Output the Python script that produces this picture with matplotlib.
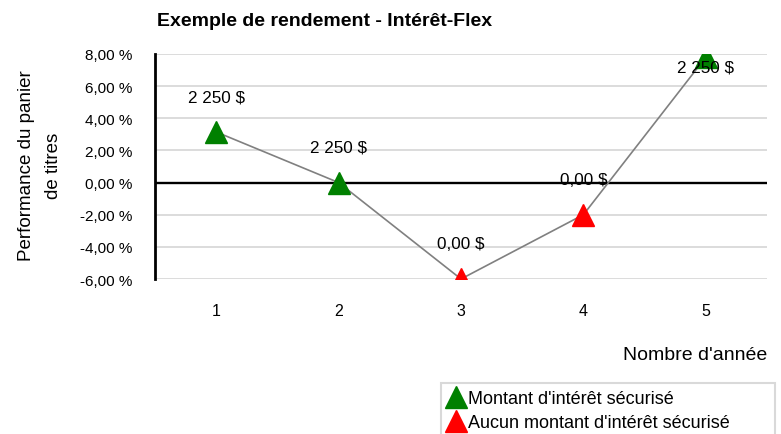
import matplotlib
matplotlib.use("Agg")
import matplotlib.pyplot as plt
from matplotlib.lines import Line2D
from matplotlib.patches import Rectangle
from matplotlib.ticker import FuncFormatter, MultipleLocator

plt.rcParams['font.family'] = ['Liberation Sans', 'DejaVu Sans']

# ---- data ----
years = [1, 2, 3, 4, 5]
performance = [3.15, 0.0, -6.0, -2.0, 7.8]          # %
secured = [True, True, False, False, True]
labels = ["2 250 $", "2 250 $", "0,00 $", "0,00 $", "2 250 $"]
title = "Exemple de rendement - Intérêt-Flex"
ylabel = "Performance du panier\nde titres"
xlabel = "Nombre d'année"
legend_labels = ["Montant d'intérêt sécurisé", "Aucun montant d'intérêt sécurisé"]

GREEN = "#008000"
RED = "#ff0000"

W, H = 781, 435
fig = plt.figure(figsize=(W / 100, H / 100), dpi=100)
ax = fig.add_axes([155 / W, 1 - 280 / H, (767 - 155) / W, (280 - 55) / H])

ymin, ymax = -6, 8
ax.set_xlim(0.5, 5.5)
ax.set_ylim(ymin, ymax)

# gridlines
ax.yaxis.set_major_locator(MultipleLocator(2))
ax.grid(axis='y', color='#d9d9d9', lw=1.3, zorder=0)
ax.set_axisbelow(True)
for s in ['top', 'right', 'bottom']:
    ax.spines[s].set_visible(False)
ax.spines['left'].set_linewidth(2.0)
ax.spines['left'].set_color('black')
ax.axhline(0, color='black', lw=1.7, zorder=2)

# line + markers
ax.plot(years, performance, color='#808080', lw=1.2, zorder=3)
for x, y, s in zip(years, performance, secured):
    ax.plot([x], [y], marker='^', ms=16.5, color=GREEN if s else RED,
            ls='', zorder=4)

# data labels
for x, y, lab in zip(years, performance, labels):
    off = -7 if y > ymax - 1 else 25.5
    ax.annotate(lab, (x, y), xytext=(0, off), textcoords='offset points',
                ha='center', va='center', fontsize=12.3, zorder=5,
                annotation_clip=False)

ax.set_xticks(years)
ax.set_xticklabels([str(v) for v in years])
ax.tick_params(axis='x', length=0, pad=17, labelsize=11.5)
ax.tick_params(axis='y', length=0, pad=16, labelsize=11)
ax.yaxis.set_major_formatter(FuncFormatter(lambda v, p: f"{v:.2f} %".replace('.', ',')))

fig.text(157 / W, 1 - 22 / H, title, ha='left', va='center',
         fontsize=14, fontweight='bold')
fig.text(40 / W, 1 - 166 / H, ylabel, ha='center', va='center',
         rotation=90, fontsize=13.5, multialignment='center', linespacing=1.75)
fig.text(767 / W, 1 - 356 / H, xlabel, ha='right', va='center', fontsize=14)

# legend
fig.patches.append(Rectangle((441 / W, 1 - 445 / H), (775 - 441) / W, (445 - 384) / H,
                             transform=fig.transFigure, facecolor='white',
                             edgecolor='#d9d9d9', lw=1.5))
handles = [Line2D([], [], marker='^', ls='', color=GREEN, ms=16.5),
           Line2D([], [], marker='^', ls='', color=RED, ms=16.5)]
fig.legend(handles, legend_labels, loc='upper left',
           bbox_to_anchor=(446 / W, 1 - 391 / H), frameon=False,
           fontsize=13, handlelength=1.1, handletextpad=0.1,
           borderpad=0, borderaxespad=0, labelspacing=0.4)

fig.savefig("out.png", dpi=100)
